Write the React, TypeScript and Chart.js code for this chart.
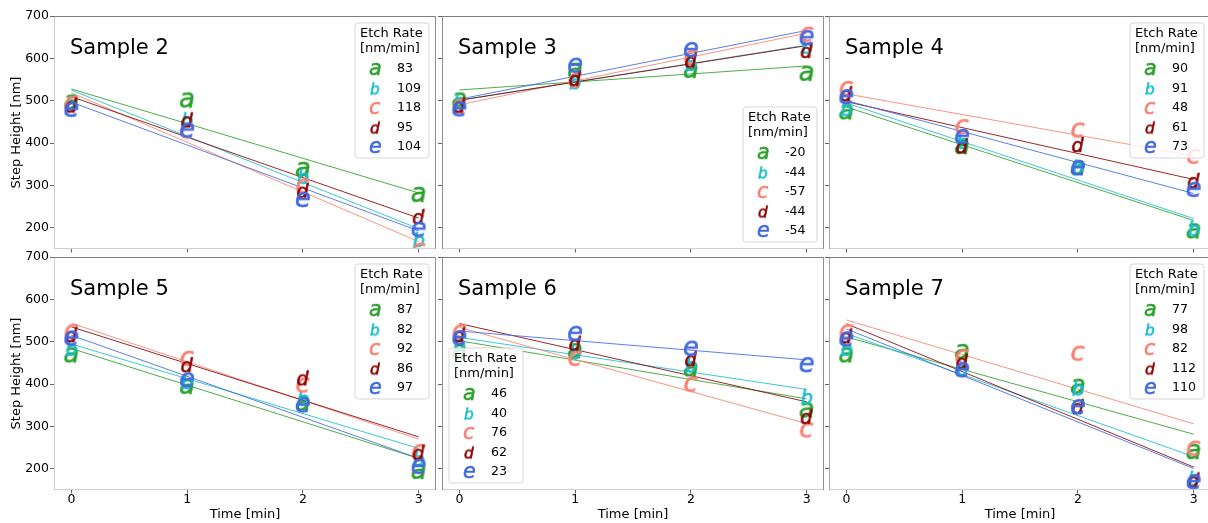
import React, { useEffect, useRef } from 'react';
import { Chart, registerables } from 'chart.js';

Chart.register(...registerables);

const FONT = "'DejaVu Sans', 'Liberation Sans', sans-serif";

// ---------- data ----------
const times = [0, 1, 2, 3];
const xTickValues = [0, 1, 2, 3];
const yTickValues = [200, 300, 400, 500, 600, 700];
const seriesLetters = ['a', 'b', 'c', 'd', 'e'];
const seriesColors = ['#2ca02c', '#17becf', '#fa8072', '#8b0000', '#4169e1'];
const lineColors = ['rgba(44,160,44,0.85)', 'rgba(23,190,207,0.85)', 'rgba(250,128,114,0.85)', 'rgba(139,0,0,0.85)', 'rgba(65,105,225,0.85)'];
const sampleTitles = ['Sample 2', 'Sample 3', 'Sample 4', 'Sample 5', 'Sample 6', 'Sample 7'];
const legendTitle = ['Etch Rate', '[nm/min]'];
const xAxisTitle = 'Time [min]';
const yAxisTitle = 'Step Height [nm]';

// step heights [nm] per series a..e at times 0..3 min
const sample2Heights = [
  [498, 503, 339, 280],
  [493, 456, 323, 174],
  [495, 430, 300, 148],
  [491, 456, 290, 228],
  [481, 432, 268, 198],
];
const sample3Heights = [
  [503, 573, 573, 566],
  [500, 546, 589, 630],
  [488, 550, 604, 658],
  [491, 554, 597, 620],
  [482, 585, 622, 650],
];
const sample4Heights = [
  [475, 393, 343, 194],
  [483, 405, 345, 200],
  [530, 440, 432, 370],
  [518, 395, 398, 313],
  [511, 417, 343, 292],
];
const sample5Heights = [
  [470, 396, 356, 195],
  [486, 407, 368, 225],
  [525, 462, 399, 242],
  [518, 447, 416, 240],
  [510, 411, 352, 207],
];
const sample6Heights = [
  [478, 480, 437, 340],
  [498, 478, 447, 372],
  [525, 462, 401, 293],
  [518, 498, 461, 325],
  [511, 521, 486, 447],
];
const sample7Heights = [
  [470, 478, 396, 242],
  [486, 439, 392, 179],
  [525, 466, 474, 250],
  [515, 455, 348, 175],
  [508, 435, 348, 171],
];

// etch rates shown in the legends [nm/min]
const sample2Rates = [83, 109, 118, 95, 104];
const sample3Rates = [-20, -44, -57, -44, -54];
const sample4Rates = [90, 91, 48, 61, 73];
const sample5Rates = [87, 82, 92, 86, 97];
const sample6Rates = [46, 40, 76, 62, 23];
const sample7Rates = [77, 98, 82, 112, 110];

const legendCorners = ['upper right', 'lower right', 'upper right', 'upper right', 'lower left', 'upper right'];

const panelHeights = [sample2Heights, sample3Heights, sample4Heights, sample5Heights, sample6Heights, sample7Heights];
const panelRates = [sample2Rates, sample3Rates, sample4Rates, sample5Rates, sample6Rates, sample7Rates];

// ---------- layout ----------
const CW = 1220;
const CH = 523;
const colLefts = [54, 442, 829];
const rowTops = [16, 257];
const plotW = 382;
const plotH = 233;
const yAxisW = 30;
const xAxisH = 24;
const leftSpineColors = ['#d0d0d0', '#909090', '#a8a8a8'];

function makeMarker(letter: string, color: string, size: number): HTMLCanvasElement {
  const c = document.createElement('canvas');
  const dim = Math.ceil(size + 6) + (Math.ceil(size + 6) % 2);
  c.width = dim;
  c.height = dim;
  const ctx = c.getContext('2d')!;
  ctx.font = `italic 100px ${FONT}`;
  const m = ctx.measureText(letter);
  const w = m.actualBoundingBoxLeft + m.actualBoundingBoxRight;
  const h = m.actualBoundingBoxAscent + m.actualBoundingBoxDescent;
  const fs = (100 * size) / Math.max(w, h);
  ctx.font = `italic ${fs}px ${FONT}`;
  const m2 = ctx.measureText(letter);
  const cx = (m2.actualBoundingBoxRight - m2.actualBoundingBoxLeft) / 2;
  const cy = (m2.actualBoundingBoxDescent - m2.actualBoundingBoxAscent) / 2;
  ctx.textAlign = 'left';
  ctx.textBaseline = 'alphabetic';
  ctx.fillStyle = color;
  ctx.strokeStyle = color;
  ctx.lineWidth = 0.6;
  const x = dim / 2 - cx;
  const y = dim / 2 - cy;
  ctx.fillText(letter, x, y);
  ctx.strokeText(letter, x, y);
  return c;
}

function linearFit(xs: number[], ys: number[]) {
  const n = xs.length;
  const mx = xs.reduce((s, v) => s + v, 0) / n;
  const my = ys.reduce((s, v) => s + v, 0) / n;
  let sxy = 0;
  let sxx = 0;
  for (let i = 0; i < n; i++) {
    sxy += (xs[i] - mx) * (ys[i] - my);
    sxx += (xs[i] - mx) * (xs[i] - mx);
  }
  const slope = sxy / sxx;
  return { slope, intercept: my - slope * mx };
}

export default function App() {
  const refs = useRef<(HTMLCanvasElement | null)[]>([]);

  useEffect(() => {
    const plotMarkers = seriesLetters.map((l, i) => makeMarker(l, seriesColors[i], 15));
    const legendMarkers = seriesLetters.map((l, i) => makeMarker(l, seriesColors[i], 12));
    const charts: Chart[] = [];

    panelHeights.forEach((heights, p) => {
      const canvas = refs.current[p];
      if (!canvas) return;
      const col = p % 3;
      const row = Math.floor(p / 3);
      const left = colLefts[col];
      const top = rowTops[row];
      const isLeft = col === 0;
      const isBottom = row === 1;
      const rates = panelRates[p];
      const corner = legendCorners[p];

      const datasets: any[] = [];
      heights.forEach((ys, s) => {
        const fit = linearFit(times, ys);
        const x0 = times[0];
        const x1 = times[times.length - 1];
        datasets.push({
          label: 'fit ' + seriesLetters[s],
          data: [
            { x: x0, y: fit.intercept + fit.slope * x0 },
            { x: x1, y: fit.intercept + fit.slope * x1 },
          ],
          showLine: true,
          borderColor: lineColors[s],
          borderWidth: 1,
          pointRadius: 0,
          order: 20 + (4 - s),
        });
      });
      heights.forEach((ys, s) => {
        datasets.push({
          label: seriesLetters[s],
          data: times.map((t, k) => ({ x: t, y: ys[k] })),
          showLine: false,
          pointStyle: plotMarkers[s],
          pointRadius: 9,
          pointBorderWidth: 0,
          order: 4 - s,
        });
      });

      const decor = {
        id: 'decor' + p,
        afterDatasetsDraw(chart: any) {
          const ctx: CanvasRenderingContext2D = chart.ctx;
          const a = chart.chartArea;
          ctx.save();
          // spines
          ctx.lineWidth = 1;
          const L = Math.round(a.left);
          const R = Math.round(a.right);
          const T = Math.round(a.top);
          const B = Math.round(a.bottom);
          const line = (x1: number, y1: number, x2: number, y2: number, c: string) => {
            ctx.strokeStyle = c;
            ctx.beginPath();
            ctx.moveTo(x1, y1);
            ctx.lineTo(x2, y2);
            ctx.stroke();
          };
          line(L, B - 0.5, R, B - 0.5, '#d0d0d0');
          line(L + 0.5, T, L + 0.5, B, leftSpineColors[col]);
          line(L, T + 0.5, R, T + 0.5, '#808080');
          line(R - 0.5, T, R - 0.5, B, '#909090');

          // panel title
          ctx.fillStyle = '#000';
          ctx.font = `21px ${FONT}`;
          ctx.textAlign = 'left';
          ctx.textBaseline = 'alphabetic';
          ctx.fillText(sampleTitles[p], a.left + 16, a.top + 38);

          // legend
          const bw = 74;
          const bh = 135;
          const inset = 7;
          const lx = corner.endsWith('right') ? a.right - inset - bw : a.left + inset;
          const ly = corner.startsWith('upper') ? a.top + inset : a.bottom - inset - bh;
          const r = 3;
          ctx.beginPath();
          ctx.moveTo(lx + r, ly);
          ctx.lineTo(lx + bw - r, ly);
          ctx.quadraticCurveTo(lx + bw, ly, lx + bw, ly + r);
          ctx.lineTo(lx + bw, ly + bh - r);
          ctx.quadraticCurveTo(lx + bw, ly + bh, lx + bw - r, ly + bh);
          ctx.lineTo(lx + r, ly + bh);
          ctx.quadraticCurveTo(lx, ly + bh, lx, ly + bh - r);
          ctx.lineTo(lx, ly + r);
          ctx.quadraticCurveTo(lx, ly, lx + r, ly);
          ctx.closePath();
          ctx.fillStyle = 'rgba(255,255,255,0.8)';
          ctx.fill();
          ctx.strokeStyle = 'rgba(204,204,204,0.8)';
          ctx.lineWidth = 1;
          ctx.stroke();

          ctx.fillStyle = '#000';
          ctx.font = `13px ${FONT}`;
          ctx.textAlign = 'left';
          ctx.textBaseline = 'middle';
          ctx.fillText(legendTitle[0], lx + 5, ly + 11);
          ctx.fillText(legendTitle[1], lx + 5, ly + 26);
          ctx.font = `12.6px ${FONT}`;
          rates.forEach((v, i) => {
            const yy = ly + 46 + i * 19.5;
            const mk = legendMarkers[i];
            ctx.drawImage(mk, lx + 20 - mk.width / 2, yy - mk.height / 2);
            ctx.fillText(String(v), lx + 42, yy);
          });
          ctx.restore();
        },
        afterDraw(chart: any) {
          const ctx: CanvasRenderingContext2D = chart.ctx;
          const a = chart.chartArea;
          ctx.save();
          ctx.fillStyle = '#000';
          ctx.font = `13px ${FONT}`;
          ctx.textAlign = 'center';
          ctx.textBaseline = 'middle';
          if (isLeft) {
            ctx.translate(16.7, (a.top + a.bottom) / 2);
            ctx.rotate(-Math.PI / 2);
            ctx.fillText(yAxisTitle, 0, 0);
            ctx.setTransform(1, 0, 0, 1, 0, 0);
          }
          if (isBottom) {
            ctx.fillText(xAxisTitle, (a.left + a.right) / 2, 514.5);
          }
          ctx.restore();
        },
      };

      const chart = new Chart(canvas, {
        type: 'scatter',
        data: { datasets },
        plugins: [decor],
        options: {
          responsive: false,
          maintainAspectRatio: false,
          devicePixelRatio: 1,
          animation: false,
          events: [],
          layout: {
            padding: {
              left: left - yAxisW,
              top: top,
              right: CW - (left + plotW),
              bottom: CH - (top + plotH) - xAxisH,
            },
          },
          plugins: {
            legend: { display: false },
            tooltip: { enabled: false },
            title: { display: false },
          },
          scales: {
            x: {
              type: 'linear',
              min: -0.15,
              max: 3.15,
              afterBuildTicks: (s: any) => {
                s.ticks = xTickValues.map((v) => ({ value: v }));
              },
              afterFit: (s: any) => {
                s.height = xAxisH;
              },
              grid: {
                drawOnChartArea: false,
                drawTicks: true,
                tickLength: 3.5,
                color: '#666',
                lineWidth: 1,
              },
              border: { display: false },
              ticks: {
                display: isBottom,
                padding: 0,
                maxRotation: 0,
                autoSkip: false,
                color: '#000',
                font: { family: FONT, size: 12.5, lineHeight: 1 },
              },
            },
            y: {
              type: 'linear',
              min: 150,
              max: 700,
              afterBuildTicks: (s: any) => {
                s.ticks = yTickValues.map((v) => ({ value: v }));
              },
              afterFit: (s: any) => {
                s.width = yAxisW;
              },
              grid: {
                drawOnChartArea: false,
                drawTicks: true,
                tickLength: 4,
                color: '#666',
                lineWidth: 1,
              },
              border: { display: false },
              ticks: {
                display: isLeft,
                padding: 1,
                autoSkip: false,
                color: '#000',
                font: { family: FONT, size: 12.5, lineHeight: 1 },
              },
            },
          },
        } as any,
      });
      charts.push(chart);
    });

    return () => {
      charts.forEach((c) => c.destroy());
    };
  }, []);

  return (
    <div
      style={{
        position: 'absolute',
        left: 0,
        top: 0,
        width: 1208,
        height: 523,
        overflow: 'hidden',
        background: '#fff',
      }}
    >
      {sampleTitles.map((t, i) => (
        <canvas
          key={t}
          ref={(el) => {
            refs.current[i] = el;
          }}
          width={CW}
          height={CH}
          style={{ position: 'absolute', left: 0, top: 0, width: CW, height: CH }}
        />
      ))}
    </div>
  );
}
